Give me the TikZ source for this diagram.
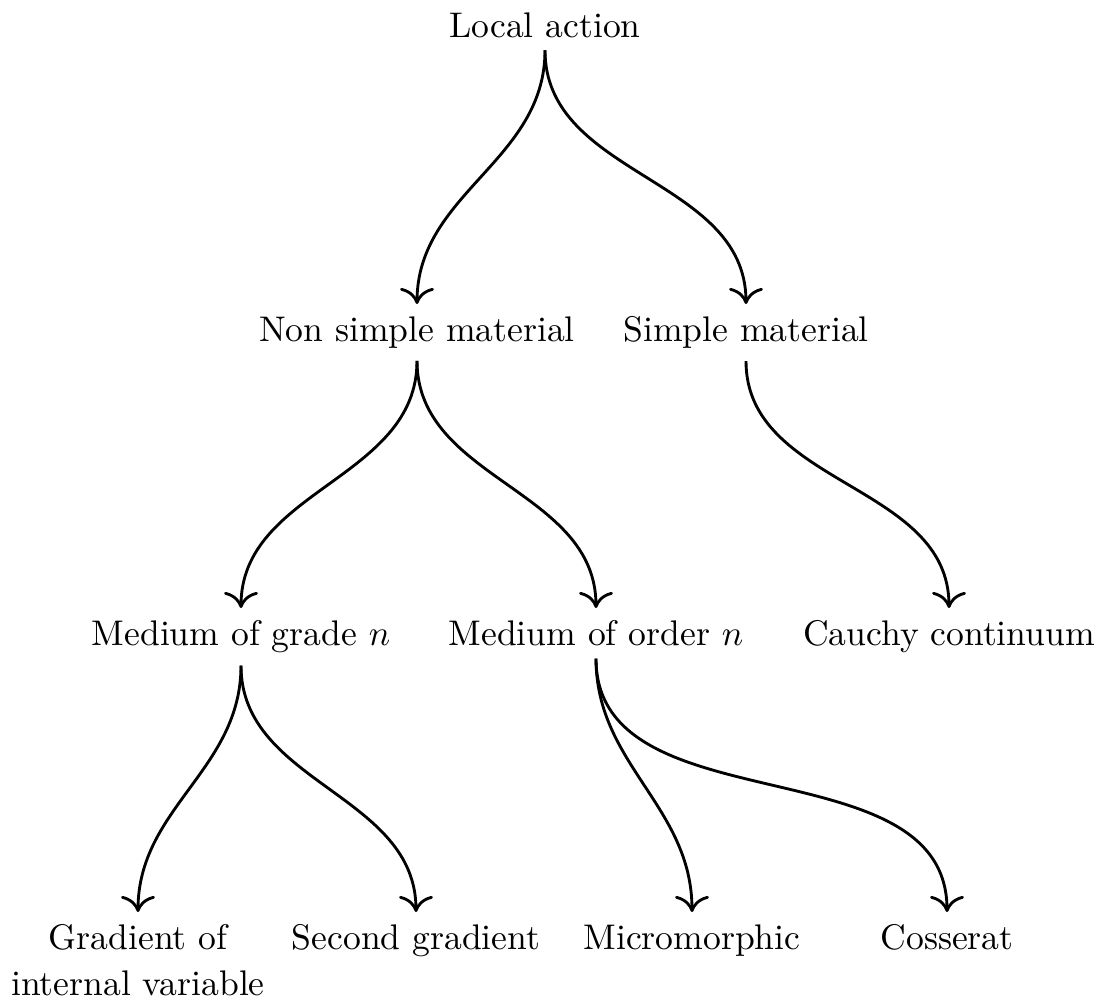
\documentclass[tikz,border=0pt]{standalone}
\usetikzlibrary{arrows.meta}
\begin{document}
\begin{tikzpicture}[x=0.2809pt,y=-0.2809pt,
  lbl/.style={anchor=north,align=center},
  conn/.style={-{To[scale=1.35]},thick,out=-90,in=90}]
\useasboundingbox (0,0) rectangle (1101,1005);
\node[lbl] (la)  at (545,0)   {Local action};
\node[lbl] (nsm) at (417,304) {Non simple material};
\node[lbl] (sm)  at (746,304) {Simple material};
\node[lbl] (mg)  at (241,608) {Medium of grade $n$};
\node[lbl] (mo)  at (596,608) {Medium of order $n$};
\node[lbl] (cc)  at (949,608) {Cauchy continuum};
\node[lbl] (giv) at (138,912) {Gradient of\\[1pt]internal variable};
\node[lbl] (sg)  at (416,912) {Second gradient};
\node[lbl] (mm)  at (692,912) {Micromorphic};
\node[lbl] (cs)  at (947,912) {Cosserat};
\draw[conn] (la.south) to (nsm.north);
\draw[conn] (la.south) to (sm.north);
\draw[conn] (nsm.south) to (mg.north);
\draw[conn] (nsm.south) to (mo.north);
\draw[conn] (sm.south) to (cc.north);
\draw[conn] (mg.south) to (giv.north);
\draw[conn] (mg.south) to (sg.north);
\draw[conn] (mo.south) to (mm.north);
\draw[conn] (mo.south) to (cs.north);
\end{tikzpicture}
\end{document}
